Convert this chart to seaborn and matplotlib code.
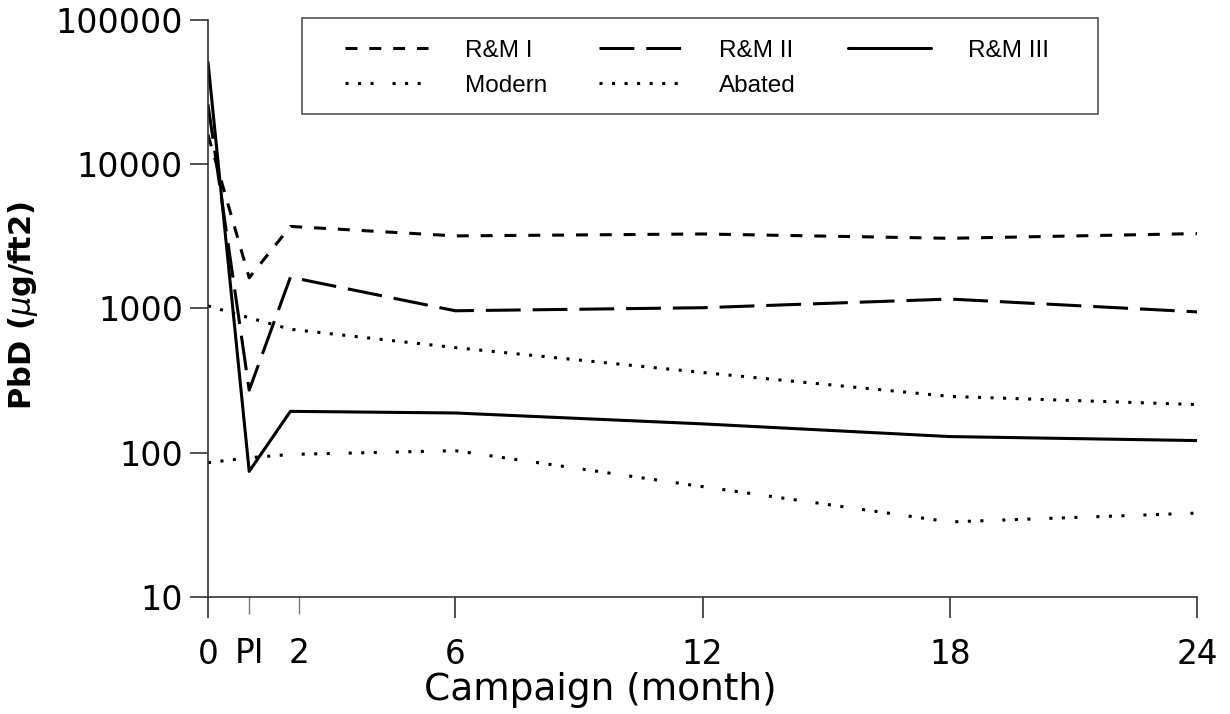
import matplotlib
matplotlib.use('Agg')
import matplotlib.pyplot as plt
import matplotlib.patches as patches
import seaborn as sb
import pandas as pd
from matplotlib.ticker import NullLocator

# values
months = [0, 1, 2, 6, 12, 18, 24]
rm1 = [16000, 1630, 3700, 3180, 3280, 3060, 3300]
rm2 = [26000, 271, 1645, 962, 1010, 1160, 945]
rm3 = [51000, 74, 193, 188, 158, 129, 121]
modern = [85, 92, 97, 103, 58, 33, 38]
abated = [1040, 860, 716, 534, 359, 245, 215]

groupNames = ['R&M I', 'R&M II', 'R&M III', 'Modern', 'Abated']

majorMonths = [0, 6, 12, 18, 24]
majorLabels = ['0', '6', '12', '18', '24']
minorMonths = [1, 2.2]
minorLabels = ['PI', '2']
yTicks = [10, 100, 1000, 10000, 100000]
yLabels = ['10', '100', '1000', '10000', '100000']


def buildFrame():
    frames = []
    for name, values in zip(groupNames, [rm1, rm2, rm3, modern, abated]):
        frames.append(pd.DataFrame({'Month': months, 'PbD': values, 'Group': name}))
    return pd.concat(frames, ignore_index=True)


if __name__ == '__main__':
    df = buildFrame()

    sb.set_style('ticks')
    plt.rcParams['font.family'] = ['DejaVu Sans']

    dashStyles = {'R&M I': (3.9, 3.9), 'R&M II': (11.4, 3.9), 'R&M III': '',
                  'Modern': (1, 3.1, 1, 3.1, 1, 6.2), 'Abated': (1, 3.1)}

    fig, ax = plt.subplots(figsize=(12.3, 7.14), dpi=100)
    fig.subplots_adjust(left=0.1691, right=0.9732, bottom=0.1643, top=0.972)

    ax = sb.lineplot(data=df, x='Month', y='PbD', style='Group', style_order=groupNames,
                     dashes=dashStyles, color='black', linewidth=2.2, errorbar=None,
                     estimator=None, sort=False, ax=ax)

    ax.set_yscale('log')
    ax.set_ylim(10, 100000)
    ax.set_xlim(0, 24)
    ax.set_yticks(yTicks, yLabels)
    ax.yaxis.set_minor_locator(NullLocator())
    ax.set_xticks(majorMonths, majorLabels)
    ax.set_xticks(minorMonths, minorLabels, minor=True)

    ax.tick_params(axis='x', which='major', length=15, width=1.2, color='#333333', pad=14.5,
                   labelsize=23.5, labelcolor='black')
    ax.tick_params(axis='x', which='minor', length=12, width=1.0, color='#777777', pad=17,
                   labelsize=23.5, labelcolor='black')
    ax.tick_params(axis='y', which='major', length=13, width=1.2, color='#333333', pad=5,
                   labelsize=24, labelcolor='black')

    sb.despine(ax=ax)
    for side in ['left', 'bottom']:
        ax.spines[side].set_color('#333333')
        ax.spines[side].set_linewidth(1.2)

    ax.set_xlabel('Campaign (month)', fontsize=27, color='black')
    ax.xaxis.set_label_coords(0.397, -0.1306)
    ax.set_ylabel('PbD ($\\mu$g/ft2)', fontsize=22, fontweight='bold', color='black')
    ax.yaxis.set_label_coords(-0.17, 0.505)

    oldLegend = ax.get_legend()
    handles = list(oldLegend.legend_handles)
    labels = [t.get_text() for t in oldLegend.get_texts()]
    oldLegend.remove()
    for h in handles:
        h.set_linewidth(2.2)
        h.set_color('black')
    order = [0, 3, 1, 4, 2]
    leg = ax.legend([handles[i] for i in order], [labels[i] for i in order], ncol=3,
                    loc='upper left', bbox_to_anchor=(0.1385, 0.966), borderaxespad=0,
                    borderpad=0, prop={'family': 'Liberation Sans', 'size': 17.5},
                    handlelength=3.42, handletextpad=1.52, columnspacing=2.14,
                    labelspacing=0.54, frameon=False)
    for t in leg.get_texts():
        t.set_color('black')

    # legend box drawn around the entries
    box = patches.Rectangle((0.095, 0.837), 0.805, 0.1665, transform=ax.transAxes,
                            fill=False, edgecolor='#555555', linewidth=1.2, clip_on=False)
    ax.add_patch(box)

    fig.savefig('out.png', dpi=100)
